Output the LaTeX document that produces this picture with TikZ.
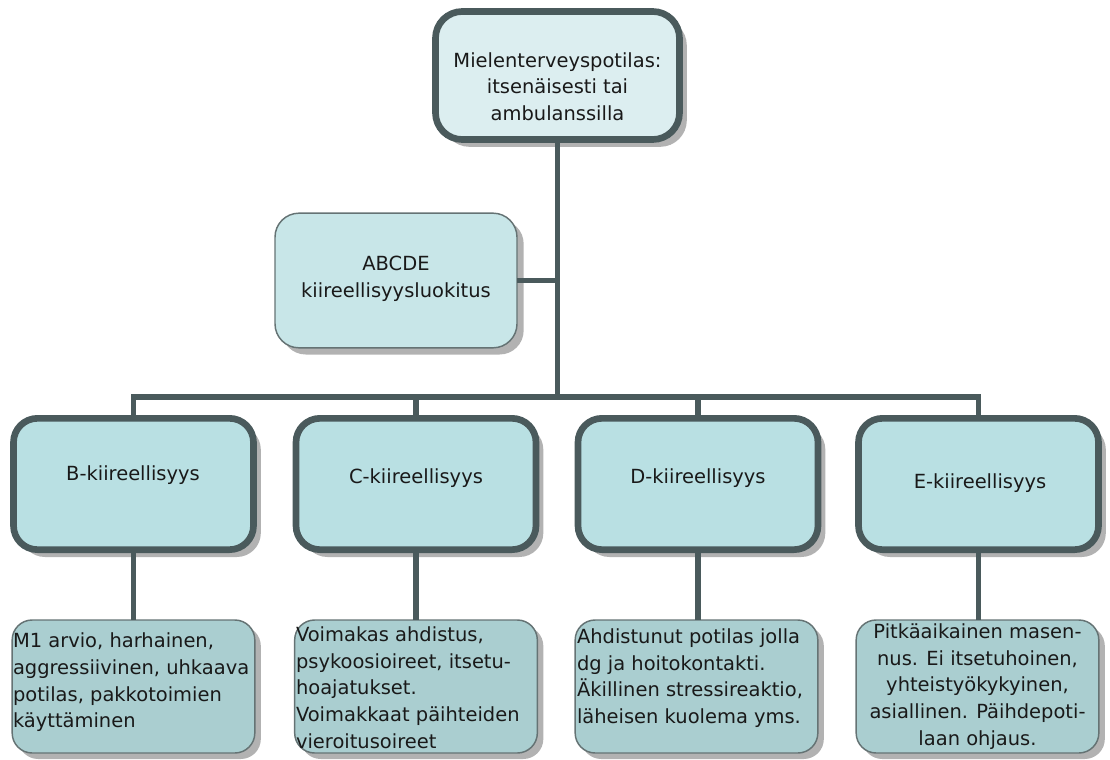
\documentclass[tikz,border=0pt]{standalone}
\usepackage{fontspec}
\setmainfont{DejaVu Sans}
\usetikzlibrary{shadows}
\definecolor{lineC}{RGB}{74,90,92}
\definecolor{topF}{RGB}{220,238,240}
\definecolor{lvlF}{RGB}{185,224,227}
\definecolor{abcF}{RGB}{200,230,232}
\definecolor{leafF}{RGB}{170,206,208}
\definecolor{shadC}{RGB}{178,178,178}
\tikzset{
  every node/.style={inner sep=0pt, outer sep=0pt, font=\fontsize{14.6}{20}\selectfont},
  thickbox/.style={draw=lineC, line width=5pt, rounded corners=18pt,
    drop shadow={shadow xshift=5.5pt, shadow yshift=-5.5pt, fill=shadC, opacity=1}},
  topbox/.style={thickbox, fill=topF, minimum width=183pt, minimum height=96pt, rounded corners=20pt},
  lvlbox/.style={thickbox, fill=lvlF, minimum width=180pt, minimum height=98.5pt},
  abcbox/.style={draw=lineC!85, line width=1.1pt, fill=abcF, rounded corners=18pt,
    minimum width=181.5pt, minimum height=101pt,
    drop shadow={shadow xshift=5pt, shadow yshift=-5pt, fill=shadC, opacity=1}},
  leafbox/.style={draw=lineC!85, line width=1.1pt, fill=leafF, rounded corners=15pt,
    minimum width=182pt, minimum height=99.75pt,
    drop shadow={shadow xshift=4.5pt, shadow yshift=-4.5pt, fill=shadC, opacity=1}},
  txt/.style={text=black!90, align=center},
  ltxt/.style={text=black!90, align=left, anchor=west},
  conn/.style={draw=lineC, line width=3.8pt}
}
\begin{document}
\begin{tikzpicture}[x=0.75pt, y=-0.75pt]
\useasboundingbox (0,0) rectangle (1110,760);
% boxes
\node[topbox] (T) at (557.5,75.5) {};
\node[abcbox] (A) at (396,280.5) {};
\node[lvlbox] (B) at (133.5,484) {};
\node[lvlbox] (C) at (416,484) {};
\node[lvlbox] (D) at (698,484) {};
\node[lvlbox] (E) at (978.5,484) {};
\node[leafbox] (Bl) at (133.5,686.5) {};
\node[leafbox] (Cl) at (416,686.5) {};
\node[leafbox] (Dl) at (696.5,686.5) {};
\node[leafbox] (El) at (977.5,686.5) {};
% texts
\node[txt] (Tt) at (557.5,86.5) {Mielenterveyspotilas:\\itsenäisesti tai\\ambulanssilla};
\node[txt] (At) at (396,279) {ABCDE\\kiireellisyysluokitus};
\node[txt] (Bt) at (133,475) {B-kiireellisyys};
\node[txt] (Ct) at (416,478) {C-kiireellisyys};
\node[txt] (Dt) at (698,478) {D-kiireellisyys};
\node[txt] (Et) at (980,483) {E-kiireellisyys};
\node[ltxt] (Blt) at (13,682.5) {M1 arvio, harhainen,\\aggressiivinen, uhkaava\\potilas, pakkotoimien\\käyttäminen};
\node[ltxt] (Clt) at (296,687.5) {Voimakas ahdistus,\\psykoosioireet, itsetu-\\hoajatukset.\\Voimakkaat päihteiden\\vieroitusoireet};
\node[ltxt] (Dlt) at (577,678) {Ahdistunut potilas jolla\\dg ja hoitokontakti.\\Äkillinen stressireaktio,\\läheisen kuolema yms.};
\node[txt] (Elt) at (977.5,686.5) {Pitkäaikainen masen-\\nus. Ei itsetuhoinen,\\yhteistyökykyinen,\\asiallinen. Päihdepoti-\\laan ohjaus.};
% connectors
\coordinate (bus) at (557.5,397);
\draw[conn] (T.south) -- (bus);
\draw[conn] (A.east) -- (A.east -| bus);
\draw[conn] (B.north) -- (B.north |- bus) -- (E.north |- bus) -- (E.north);
\draw[conn] (C.north) -- (C.north |- bus);
\draw[conn] (D.north) -- (D.north |- bus);
\draw[conn] (B.south) -- (B.south |- Bl.north);
\draw[conn] (C.south) -- (C.south |- Cl.north);
\draw[conn] (D.south) -- (D.south |- Dl.north);
\draw[conn] (E.south) -- (E.south |- El.north);
\end{tikzpicture}
\end{document}
